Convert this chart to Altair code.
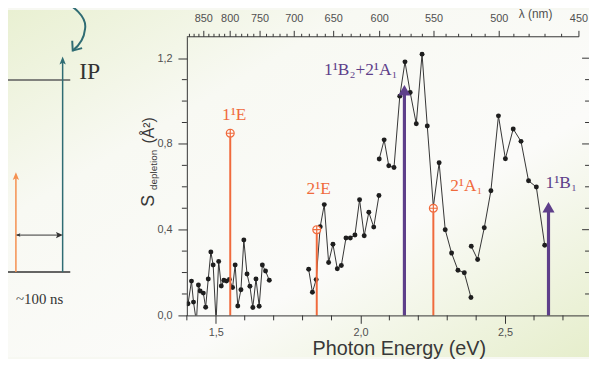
import altair as alt
import pandas as pd

# ---------------- data ----------------
seg1_E = [1.404, 1.416, 1.423, 1.433, 1.440, 1.446, 1.457, 1.465, 1.474, 1.483,
          1.491, 1.501, 1.510, 1.519, 1.528, 1.537, 1.547, 1.558, 1.567, 1.576,
          1.587, 1.597, 1.608, 1.618, 1.628, 1.639, 1.650, 1.661, 1.672, 1.685]
seg1_S = [0.054, 0.160, 0.062, -0.03, 0.142, 0.114, 0.104, 0.038, 0.170, 0.296,
          0.235, -0.03, 0.252, 0.137, 0.164, 0.160, 0.168, 0.130, 0.235, 0.044,
          0.120, 0.352, 0.193, 0.136, 0.037, 0.170, 0.043, 0.235, 0.207, 0.164]
seg2_E = [1.821, 1.834, 1.847, 1.861, 1.875, 1.890, 1.905, 1.920, 1.934, 1.950,
          1.965, 1.981, 1.997, 2.013, 2.029, 2.046, 2.064]
seg2_S = [0.215, 0.108, 0.167, 0.414, 0.517, 0.247, 0.332, 0.218, 0.233, 0.361,
          0.361, 0.375, 0.540, 0.372, 0.481, 0.412, 0.559]
seg3_E = [2.065, 2.082, 2.098, 2.116, 2.136, 2.154, 2.172, 2.193, 2.213, 2.231,
          2.252, 2.272, 2.293, 2.315, 2.337, 2.359, 2.382]
seg3_S = [0.730, 0.819, 0.698, 0.690, 1.023, 1.183, 1.040, 0.894, 1.219, 0.884,
          0.507, 0.712, 0.400, 0.291, 0.211, 0.199, 0.084]
seg4_E = [2.383, 2.405, 2.428, 2.451, 2.477, 2.501, 2.528, 2.555, 2.581, 2.608, 2.637]
seg4_S = [0.323, 0.261, 0.409, 0.582, 0.931, 0.731, 0.870, 0.812, 0.628, 0.599, 0.327]

trans_names = ["1¹E", "2¹E", "1¹B₂+2¹A₁", "2¹A₁", "1¹B₁"]
trans_E = [1.550, 1.849, 2.152, 2.252, 2.650]
trans_S = [0.85, 0.40, 1.05, 0.50, 0.505]
trans_group = ["orange", "orange", "purple", "orange", "purple"]

x_major = [1.5, 2.0, 2.5]
x_minor = [1.4, 1.6, 1.7, 1.8, 1.9, 2.1, 2.2, 2.3, 2.4, 2.6, 2.7]
y_major = [0.0, 0.4, 0.8, 1.2]
y_minor = [0.1, 0.2, 0.3, 0.5, 0.6, 0.7, 0.9, 1.0, 1.1]
nm_major = [850, 800, 750, 700, 650, 600, 550, 500, 450]
nm_minor = [880, 870, 860, 840, 830, 820, 810, 790, 780, 770, 760, 740, 730, 720,
            710, 690, 680, 670, 660, 640, 630, 620, 610, 590, 580, 570, 560, 540,
            530, 520, 510, 490, 480, 470, 460]

# ---------------- styling / layout ----------------
W, H = 407, 282
PAD = {"left": 181, "top": 27, "right": 0, "bottom": 42}
ORANGE = "#f06a3c"
PURPLE = "#5e3f8a"
TEAL = "#2f6c73"
SANS = "Liberation Sans"
SERIF = "Liberation Serif"
AX = "#333333"
LAB = "#505050"

spec = pd.concat([
    pd.DataFrame({"E": seg1_E, "S": seg1_S, "seg": "a"}),
    pd.DataFrame({"E": seg2_E, "S": seg2_S, "seg": "b"}),
    pd.DataFrame({"E": seg3_E, "S": seg3_S, "seg": "c"}),
    pd.DataFrame({"E": seg4_E, "S": seg4_S, "seg": "d"}),
], ignore_index=True)
trans = pd.DataFrame({"name": trans_names, "E": trans_E, "S": trans_S,
                      "group": trans_group, "zero": 0.0})
one = pd.DataFrame({"k": [0]})
wl = 1239.84

xs = alt.Scale(domain=[1.4, 2.79], nice=False, zero=False)
ys = alt.Scale(domain=[0, 1.3], nice=False, zero=False)

x_axis = alt.Axis(values=x_major, format=".1f", labelExpr="replace(datum.label, '.', ',')",
                  tickSize=8, labelPadding=3, title=None, grid=False, zindex=1,
                  domainColor=AX, tickColor=AX, labelColor=LAB, labelFont=SANS, labelFontSize=11)
y_axis = alt.Axis(values=y_major, format=".1f", labelExpr="replace(datum.label, '.', ',')",
                  tickSize=9, labelPadding=6, title=None, grid=False, zindex=1,
                  domainColor=AX, tickColor=AX, labelColor=LAB, labelFont=SANS, labelFontSize=11)


def X(field="E"):
    return alt.X(f"{field}:Q", scale=xs, axis=x_axis)


def Y(field="S"):
    return alt.Y(f"{field}:Q", scale=ys, axis=y_axis)


layers = []

# slide background
grad = alt.LinearGradient(gradient="linear", x1=0, y1=0, x2=1, y2=1, stops=[
    alt.GradientStop(offset=0, color="#e9f0d2"),
    alt.GradientStop(offset=0.3, color="#f8f9f3"),
    alt.GradientStop(offset=0.65, color="#fbfbf9"),
    alt.GradientStop(offset=1, color="#e6eecc"),
])
layers.append(alt.Chart(one).mark_rect(fill=grad).encode(
    x=alt.value(-PAD["left"]), x2=alt.value(W + PAD["right"]),
    y=alt.value(-PAD["top"]), y2=alt.value(H + PAD["bottom"])))

# data line + dots
layers.append(alt.Chart(spec).mark_line(color="#333333", strokeWidth=1, clip=True).encode(
    x=X(), y=Y(), detail="seg:N", order="E:Q"))
layers.append(alt.Chart(spec).mark_circle(size=25, color="#1e1e1e", opacity=1, clip=True).encode(
    x=X(), y=Y()))

# transition sticks
layers.append(alt.Chart(trans).transform_filter("datum.group == 'orange'").mark_rule(
    color=ORANGE, strokeWidth=2).encode(x=X(), y=Y(), y2="zero:Q"))
layers.append(alt.Chart(trans).transform_filter("datum.group == 'purple'").mark_rule(
    color=PURPLE, strokeWidth=3.2).encode(x=X(), y=Y(), y2="zero:Q"))
circ_plus = "M-1,0A1,1,0,1,0,1,0A1,1,0,1,0,-1,0ZM-1,0L1,0M0,-1L0,1"
layers.append(alt.Chart(trans).transform_filter("datum.group == 'orange'").mark_point(
    shape=circ_plus, size=64, fill="#fbfbf9", stroke=ORANGE, strokeWidth=1.2, opacity=1).encode(
    x=X(), y=Y()))
layers.append(alt.Chart(trans).transform_filter("datum.group == 'purple'").mark_point(
    shape="triangle-up", size=150, filled=True, color=PURPLE, opacity=1).encode(
    x=X(), y=Y()))

label_style = {
    "1¹E": ("center", 4, -13, ORANGE),
    "2¹E": ("center", 2, -36, ORANGE),
    "1¹B₂+2¹A₁": ("right", -7, -16, PURPLE),
    "2¹A₁": ("left", 17, -17, ORANGE),
    "1¹B₁": ("left", -3, -19.5, PURPLE),
}
for nm, (al, dx, dy, col) in label_style.items():
    layers.append(alt.Chart(trans).transform_filter(alt.datum.name == nm).mark_text(
        font=SERIF, fontSize=17.5, align=al, baseline="alphabetic", dx=dx, dy=dy, color=col).encode(
        x=X(), y=Y(), text="name:N"))

# minor ticks, bottom / left / right
layers.append(alt.Chart(pd.DataFrame({"E": x_minor})).mark_rule(color=AX, strokeWidth=1).encode(
    x=X(), y=alt.value(H), y2=alt.value(H + 5)))
layers.append(alt.Chart(pd.DataFrame({"S": y_minor})).mark_rule(color=AX, strokeWidth=1).encode(
    y=Y(), x=alt.value(-5), x2=alt.value(0)))
layers.append(alt.Chart(pd.DataFrame({"S": y_minor})).mark_rule(color=AX, strokeWidth=1).encode(
    y=Y(), x=alt.value(W - 4), x2=alt.value(W)))
layers.append(alt.Chart(pd.DataFrame({"S": y_major[1:]})).mark_rule(color=AX, strokeWidth=1).encode(
    y=Y(), x=alt.value(W - 7), x2=alt.value(W)))

# top wavelength axis
layers.append(alt.Chart(pd.DataFrame({"E": [1.4], "nm": [min(nm_major)]})).transform_calculate(
    hi=f"{wl}/datum.nm").mark_rule(color=AX, strokeWidth=1).encode(
    x=X(), x2="hi:Q", y=alt.value(0)))
layers.append(alt.Chart(pd.DataFrame({"nm": nm_major})).transform_calculate(
    E=f"{wl}/datum.nm").mark_rule(color=AX, strokeWidth=1).encode(
    x=X(), y=alt.value(-6), y2=alt.value(0)))
layers.append(alt.Chart(pd.DataFrame({"nm": nm_minor})).transform_calculate(
    E=f"{wl}/datum.nm").mark_rule(color=AX, strokeWidth=1).encode(
    x=X(), y=alt.value(-3), y2=alt.value(0)))
layers.append(alt.Chart(pd.DataFrame({"nm": nm_major})).transform_calculate(
    E=f"{wl}/datum.nm").mark_text(font=SANS, fontSize=11, color=LAB, baseline="alphabetic").encode(
    x=X(), y=alt.value(-15), text="nm:Q"))
layers.append(alt.Chart(one).mark_text(font=SANS, fontSize=12, color=LAB, baseline="alphabetic",
                                       text="λ (nm)").encode(x=alt.value(353), y=alt.value(-19)))

# axis titles
layers.append(alt.Chart(one).mark_text(font=SANS, fontSize=20, color="#383838", baseline="alphabetic",
                                       text="Photon Energy (eV)").encode(x=alt.value(215), y=alt.value(322)))
for txt, fs, xx, yy in [("S", 18, -33, 172), ("depletion", 10, -30.5, 155), ("(Å²)", 16, -33, 108)]:
    layers.append(alt.Chart(one).mark_text(font=SANS, fontSize=fs, color="#383838", angle=270,
                                           align="left", baseline="alphabetic", text=txt).encode(
        x=alt.value(xx), y=alt.value(yy)))

# left-hand scheme (decoration), path shapes drawn at 1:1 scale around the plot origin
strokes = [
    ("M-181,43.7L-118,43.7", "#5c5c5c", 1.5),
    ("M-181,238L-118,238", "#333333", 1.5),
    ("M-125.7,238L-125.7,24", TEAL, 1.5),
    ("M-173,238L-173,142", "#f5904f", 1.5),
    ("M-172,200.7L-128,200.7", "#333333", 1),
    ("M-131,-38C-114,-32,-101,-20,-103,-8C-104,2,-109,9,-115.5,14", TEAL, 2),
    ("M-116,4L-115.5,14L-106,11.5", TEAL, 2),
]
for path, col, sw in strokes:
    layers.append(alt.Chart(one).mark_point(shape=path, size=4, filled=False, stroke=col,
                                            strokeWidth=sw, opacity=1).encode(
        x=alt.value(0), y=alt.value(0)))
heads = [
    ("M-125.7,20L-128.9,28L-125.7,26.2L-122.5,28Z", TEAL),
    ("M-173,137L-176.2,145L-173,143.2L-169.8,145Z", "#f5904f"),
    ("M-125.5,200.7L-132.5,197.6L-131,200.7L-132.5,203.8Z", "#333333"),
    ("M-173,200.7L-168.5,198.9L-169.2,200.7L-168.5,202.5Z", "#333333"),
]
for path, col in heads:
    layers.append(alt.Chart(one).mark_point(shape=path, size=4, filled=True, color=col,
                                            opacity=1).encode(x=alt.value(0), y=alt.value(0)))
layers.append(alt.Chart(one).mark_text(font=SERIF, fontSize=24, color="#333333", align="left",
                                       baseline="alphabetic", text="IP").encode(
    x=alt.value(-109), y=alt.value(43)))
layers.append(alt.Chart(one).mark_text(font=SERIF, fontSize=15, color="#333333", align="center",
                                       baseline="alphabetic", text="~100 ns").encode(
    x=alt.value(-149), y=alt.value(270)))

chart = alt.layer(*layers).properties(
    width=W, height=H, padding=PAD,
    autosize=alt.AutoSizeParams(type="none"),
    background="#f7f8f2",
).configure_view(stroke="transparent")

chart.save("out.html", embed_options={"renderer": "svg", "actions": False})
